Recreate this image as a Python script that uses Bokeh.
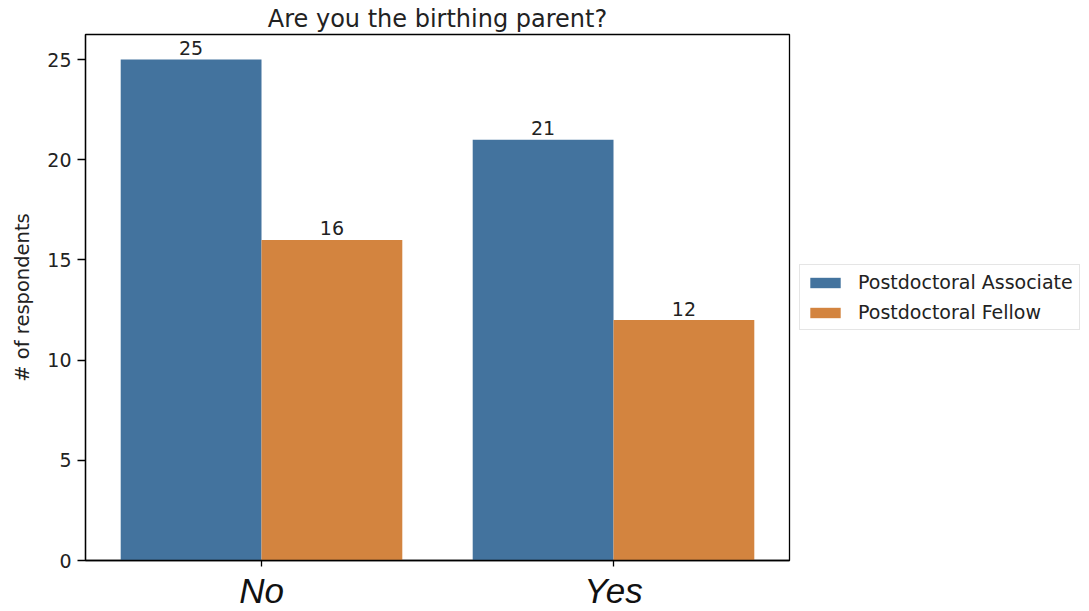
from bokeh.plotting import figure
from bokeh.models import ColumnDataSource, FactorRange, Range1d, FixedTicker, Legend
from bokeh.transform import dodge
from bokeh.core.properties import value
from bokeh.embed import file_html
from bokeh.resources import INLINE

# ---- data ----
categories = ["No", "Yes"]
series_names = ["Postdoctoral Associate", "Postdoctoral Fellow"]
associate_counts = [25, 21]
fellow_counts = [16, 12]
y_ticks = [0, 5, 10, 15, 20, 25]
title_text = "Are you the birthing parent?"
y_label = "# of respondents"

BLUE = "#43739E"
ORANGE = "#D3843F"
TXT = "#222222"
FONT = "DejaVu Sans"
FS = "19px"

src = ColumnDataSource(dict(
    cat=categories,
    assoc=associate_counts,
    fellow=fellow_counts,
    assoc_txt=[str(v) for v in associate_counts],
    fellow_txt=[str(v) for v in fellow_counts],
))

p = figure(
    frame_width=704, frame_height=526,
    x_range=FactorRange(*categories, range_padding=0, factor_padding=0),
    y_range=Range1d(0, 26.25),
    output_backend="svg", toolbar_location=None,
    min_border_left=85, min_border_right=0, min_border_top=34, min_border_bottom=50,
)
p.title.text = title_text
p.title.text_font = FONT
p.title.text_font_size = "24px"
p.title.text_font_style = "normal"
p.title.text_color = TXT
p.title.align = "center"
p.title.standoff = 4

r1 = p.vbar(x=dodge("cat", -0.2, range=p.x_range), top="assoc", width=0.4, source=src,
            fill_color=BLUE, line_color=None)
r2 = p.vbar(x=dodge("cat", 0.2, range=p.x_range), top="fellow", width=0.4, source=src,
            fill_color=ORANGE, line_color=None)

for col, off in (("assoc", -0.2), ("fellow", 0.2)):
    p.text(x=dodge("cat", off, range=p.x_range), y=col, text=col + "_txt", source=src,
           text_align="center", text_baseline="bottom", y_offset=-4.5,
           text_font=value(FONT), text_font_size=FS, text_color=TXT)

p.xgrid.visible = False
p.ygrid.visible = False
p.outline_line_color = "black"
p.outline_line_width = 1.3

# y axis
ya = p.yaxis[0]
ya.ticker = FixedTicker(ticks=y_ticks)
ya.minor_tick_line_color = None
ya.major_tick_in = 0
ya.major_tick_out = 8
ya.major_tick_line_width = 1.3
ya.axis_line_width = 1.3
ya.axis_line_color = "black"
ya.major_tick_line_color = "black"
ya.major_label_text_font = FONT
ya.major_label_text_font_size = FS
ya.major_label_text_color = TXT
ya.major_label_standoff = 6
ya.axis_label = y_label
ya.axis_label_text_font = FONT
ya.axis_label_text_font_size = "19.5px"
ya.axis_label_text_font_style = "normal"
ya.axis_label_text_color = TXT
ya.axis_label_standoff = 10

# x axis
xa = p.xaxis[0]
xa.major_tick_in = 0
xa.major_tick_out = 6
xa.major_tick_line_width = 1.3
xa.axis_line_width = 1.3
xa.axis_line_color = "black"
xa.major_tick_line_color = "black"
xa.major_label_text_font = "Liberation Sans"
xa.major_label_text_font_style = "italic"
xa.major_label_text_font_size = "35px"
xa.major_label_text_color = "#111111"
xa.major_label_standoff = 4

legend = Legend(items=[(series_names[0], [r1]), (series_names[1], [r2])],
                location="left", orientation="vertical",
                label_text_font=FONT, label_text_font_size="19px", label_text_color=TXT,
                glyph_width=38, glyph_height=13, label_standoff=14,
                spacing=8, padding=6, margin=10,
                border_line_color="#cccccc", border_line_width=1,
                background_fill_color="white", background_fill_alpha=1)
p.add_layout(legend, "right")

open("out.html", "w").write(file_html(p, INLINE))
